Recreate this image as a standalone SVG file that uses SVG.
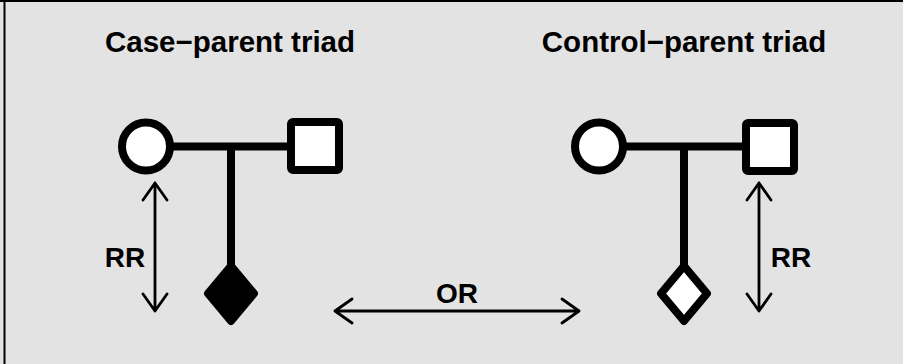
<svg xmlns="http://www.w3.org/2000/svg" width="903" height="364" viewBox="0 0 903 364">
  <style>
    .title { font-family: "Liberation Sans", Arial, sans-serif; font-weight: bold; font-size: 29.5px; fill: #000; text-anchor: middle; }
    .label { font-family: "Liberation Sans", Arial, sans-serif; font-weight: bold; font-size: 28px; fill: #000; text-anchor: middle; }
    .member { fill: #fff; stroke: #000; stroke-width: 8; stroke-linejoin: round; }
    .affected { fill: #000; stroke: #000; stroke-width: 8; stroke-linejoin: round; }
    .line { fill: none; stroke: #000; stroke-width: 8; }
    .arrow { fill: none; stroke: #000; stroke-width: 2.8; stroke-linecap: round; stroke-linejoin: round; }
  </style>

  <!-- panel background with left/top frame -->
  <rect x="0" y="0" width="903" height="364" fill="#e3e3e3"/>
  <line x1="0" y1="1" x2="903" y2="1" stroke="#000" stroke-width="2"/>
  <line x1="4.5" y1="0" x2="4.5" y2="364" stroke="#000" stroke-width="2"/>

  <text class="title" x="230" y="52">Case−parent triad</text>
  <text class="title" x="684" y="52">Control−parent triad</text>

  <!-- pedigree lines -->
  <g id="connectors">
    <line class="line" x1="146" y1="146.5" x2="315" y2="146.5"/>
    <line class="line" x1="231" y1="146.5" x2="231" y2="266"/>
    <line class="line" x1="599" y1="146.5" x2="770" y2="146.5"/>
    <line class="line" x1="684" y1="146.5" x2="684" y2="266"/>

    <!-- RR (case triad) -->
    <path class="arrow" d="M155 183 V311 M143 200 L155 183 L167 200 M143 294 L155 311 L167 294"/>
    <!-- RR (control triad) -->
    <path class="arrow" d="M759 183 V311 M747 200 L759 183 L771 200 M747 294 L759 311 L771 294"/>
    <!-- OR between triads -->
    <path class="arrow" d="M335 311 H579 M352 299 L335 311 L352 323 M562 299 L579 311 L562 323"/>
  </g>

  <g id="case-mother"><circle class="member" cx="146" cy="146.5" r="24"/></g>
  <g id="case-father"><rect class="member" x="291" y="122" width="48" height="48" rx="2"/></g>
  <g id="case-child"><path class="affected" d="M231 266 L254 293.5 L231 321 L208 293.5 Z"/></g>

  <g id="control-mother"><circle class="member" cx="599" cy="146.5" r="24"/></g>
  <g id="control-father"><rect class="member" x="746" y="123" width="48" height="48" rx="2"/></g>
  <g id="control-child"><path class="member" d="M684 266 L707 293.5 L684 321 L661 293.5 Z"/></g>

  <text class="label" x="125" y="267">RR</text>
  <text class="label" x="791" y="267">RR</text>
  <text class="label" x="457" y="303">OR</text>
</svg>
